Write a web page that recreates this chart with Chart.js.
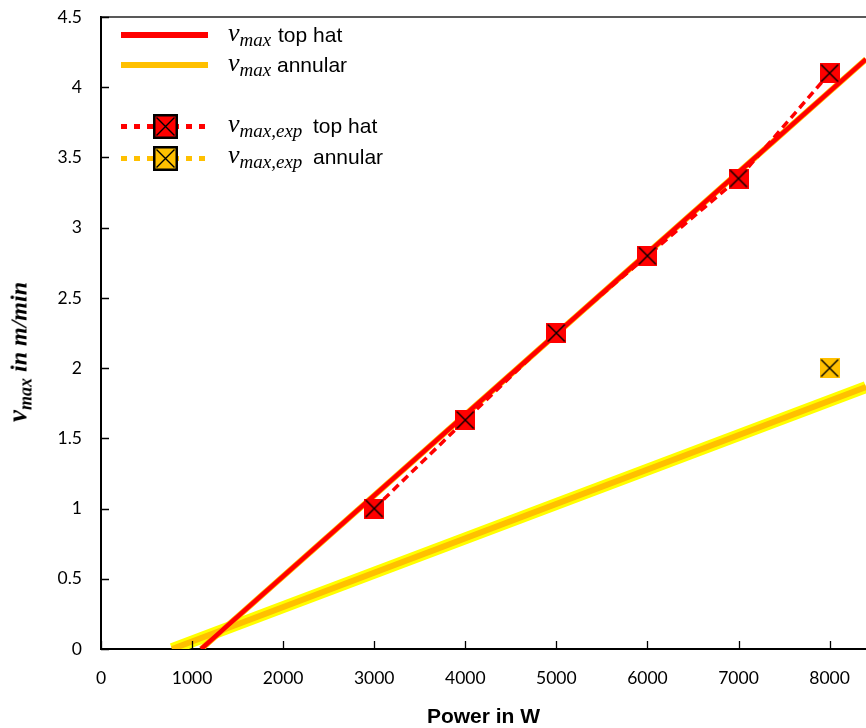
<!DOCTYPE html>
<html lang="en">
<head>
  <meta charset="UTF-8">
  <title>v_max over laser power</title>
  <script src="https://cdn.jsdelivr.net/npm/chart.js"></script>
  <style>
    html, body { margin: 0; padding: 0; background: #fff; }
    #wrap { position: relative; width: 866px; height: 728px; overflow: hidden; }
    #chart { position: absolute; left: 0; top: 0; }
    .sym { position: absolute; left: 121px; width: 87px; }
    .mark { position: absolute; left: 153px; }
    .lv { position: absolute; left: 228px; font-family: "Liberation Serif", "Times New Roman", serif; font-style: italic; font-size: 26px; line-height: 1; white-space: nowrap; }
    .lv sub { font-size: 19px; vertical-align: -5px; line-height: 0; }
    .lt { position: absolute; font-family: "Liberation Sans", Arial, sans-serif; font-size: 21px; line-height: 1; white-space: nowrap; }
    .dots { height: 5px; background: repeating-linear-gradient(90deg, var(--c) 0 6px, transparent 6px 13px); }
    #ytitle { position: absolute; left: 18px; top: 352px; transform: translate(-50%, -50%) rotate(-90deg);
      font-family: "Liberation Serif", "Times New Roman", serif; font-weight: bold; font-style: italic; font-size: 24px; line-height: 1; white-space: nowrap; }
    #ytitle .v { font-size: 27px; }
    #ytitle sub { font-size: 18px; vertical-align: -5px; line-height: 0; }
  </style>
</head>
<body>
<div id="wrap">
  <canvas id="chart" width="866" height="728"></canvas>

  <!-- legend -->
  <div class="sym" style="top:32px;height:6px;background:#ff0000"></div>
  <div class="lv" style="top:20px">v<sub>max</sub></div>
  <div class="lt" style="top:24px;left:278px">top hat</div>

  <div class="sym" style="top:62px;height:6px;background:#ffc000"></div>
  <div class="lv" style="top:50px">v<sub>max</sub></div>
  <div class="lt" style="top:54px;left:277px">annular</div>

  <div class="sym dots" style="top:124px;--c:#ff0000"></div>
  <div class="mark" id="markTop" style="top:114px"></div>
  <div class="lv" style="top:111px">v<sub>max,exp</sub></div>
  <div class="lt" style="top:115px;left:313px">top hat</div>

  <div class="sym dots" style="top:156px;--c:#ffc000"></div>
  <div class="mark" id="markAnn" style="top:146px"></div>
  <div class="lv" style="top:142px">v<sub>max,exp</sub></div>
  <div class="lt" style="top:146px;left:313px">annular</div>

  <div id="ytitle"><span class="v">v</span><sub>max</sub> in m/min</div>
</div>

<script>
  // measured values
  const powerExpTopHat = [3000, 4000, 5000, 6000, 7000, 8000];
  const vExpTopHat = [1.0, 1.63, 2.25, 2.8, 3.35, 4.1];
  const powerExpAnnular = [8000];
  const vExpAnnular = [2.0];

  // fitted lines (start at v = 0, end at the right edge)
  const powerFitTopHat = [1100, 8400];
  const vFitTopHat = [0, 4.2];
  const powerFitAnnular = [780, 8400];
  const vFitAnnular = [0, 1.865];

  // axes
  const xRange = [0, 8400];
  const xTickValues = [0, 1000, 2000, 3000, 4000, 5000, 6000, 7000, 8000];
  const yRange = [0, 4.5];
  const yTickValues = [0, 0.5, 1, 1.5, 2, 2.5, 3, 3.5, 4, 4.5];

  const RED = '#ff0000';
  const ORANGE = '#ffc000';
  const YELLOW = '#ffff00';

  function pts(xs, ys) {
    return xs.map((x, i) => ({ x: x, y: ys[i] }));
  }

  // square marker with a cross in it
  function makeMarker(fill, size, border) {
    const c = document.createElement('canvas');
    c.width = size; c.height = size;
    const g = c.getContext('2d');
    g.fillStyle = fill;
    g.fillRect(0, 0, size, size);
    let b = 1.5;
    if (border) {
      g.strokeStyle = '#000';
      g.lineWidth = border;
      g.strokeRect(border / 2, border / 2, size - border, size - border);
      b = border + 1;
    }
    g.strokeStyle = '#000';
    g.lineWidth = 1.4;
    g.beginPath();
    g.moveTo(b, b); g.lineTo(size - b, size - b);
    g.moveTo(size - b, b); g.lineTo(b, size - b);
    g.stroke();
    return c;
  }

  document.getElementById('markTop').appendChild(makeMarker(RED, 25, 2.5));
  document.getElementById('markAnn').appendChild(makeMarker(ORANGE, 25, 2.5));

  // frame line on top + ticks pointing inwards
  const framePlugin = {
    id: 'frame',
    afterDraw(chart) {
      const { ctx, chartArea: a, scales } = chart;
      ctx.save();
      ctx.strokeStyle = '#222';
      ctx.lineWidth = 1.5;
      ctx.beginPath();
      ctx.moveTo(a.left, a.top);
      ctx.lineTo(a.right, a.top);
      ctx.stroke();
      ctx.strokeStyle = '#000';
      ctx.lineWidth = 1.3;
      ctx.beginPath();
      scales.x.ticks.forEach(t => {
        const px = Math.round(scales.x.getPixelForValue(t.value)) + 0.5;
        ctx.moveTo(px, a.bottom);
        ctx.lineTo(px, a.bottom - 8);
      });
      scales.y.ticks.forEach(t => {
        const py = Math.round(scales.y.getPixelForValue(t.value)) + 0.5;
        ctx.moveTo(a.left, py);
        ctx.lineTo(a.left + 8, py);
      });
      ctx.stroke();
      ctx.restore();
    }
  };

  const tickFont = { family: 'Lato, "Noto Sans", sans-serif', size: 17.5 };
  // invisible outer ticks only used to space the labels from the axis
  const hiddenGrid = { display: true, drawOnChartArea: false, drawTicks: true, tickLength: 19, color: 'rgba(0,0,0,0)' };

  new Chart(document.getElementById('chart').getContext('2d'), {
    type: 'scatter',
    data: {
      datasets: [
        {
          label: 'v_max,exp top hat',
          data: pts(powerExpTopHat, vExpTopHat),
          showLine: true,
          borderColor: RED,
          borderWidth: 3.5,
          borderDash: [8, 5],
          pointStyle: makeMarker(RED, 20, 0),
          order: 0
        },
        {
          label: 'v_max,exp annular',
          data: pts(powerExpAnnular, vExpAnnular),
          showLine: true,
          borderColor: ORANGE,
          borderWidth: 3.5,
          borderDash: [8, 5],
          pointStyle: makeMarker(ORANGE, 20, 0),
          order: 1
        },
        {
          label: 'v_max top hat',
          data: pts(powerFitTopHat, vFitTopHat),
          showLine: true,
          borderColor: RED,
          borderWidth: 4.5,
          pointRadius: 0,
          clip: 0,
          order: 2
        },
        {
          label: 'top hat edge',
          data: pts(powerFitTopHat, vFitTopHat),
          showLine: true,
          borderColor: ORANGE,
          borderWidth: 6,
          pointRadius: 0,
          clip: 0,
          order: 3
        },
        {
          label: 'v_max annular',
          data: pts(powerFitAnnular, vFitAnnular),
          showLine: true,
          borderColor: ORANGE,
          borderWidth: 6,
          pointRadius: 0,
          clip: 0,
          order: 4
        },
        {
          label: 'annular edge',
          data: pts(powerFitAnnular, vFitAnnular),
          showLine: true,
          borderColor: YELLOW,
          borderWidth: 12,
          pointRadius: 0,
          clip: 0,
          order: 5
        }
      ]
    },
    options: {
      responsive: false,
      animation: false,
      layout: { autoPadding: false, padding: { top: 17, right: 0, bottom: 0, left: 0 } },
      plugins: {
        legend: { display: false },
        tooltip: { enabled: false }
      },
      scales: {
        x: {
          type: 'linear',
          min: xRange[0],
          max: xRange[1],
          grid: hiddenGrid,
          border: { display: true, color: '#000', width: 2 },
          ticks: {
            color: '#000',
            font: tickFont,
            padding: 0,
            maxRotation: 0,
            autoSkip: false,
            callback: v => String(v)
          },
          afterBuildTicks: s => { s.ticks = xTickValues.map(v => ({ value: v })); },
          afterFit: s => { s.height = 79; s.paddingLeft = 0; s.paddingRight = 0; },
          title: {
            display: true,
            text: 'Power in W',
            color: '#000',
            font: { family: '"Liberation Sans", Arial, sans-serif', size: 21, weight: 'bold', lineHeight: 1 },
            padding: { top: 0, bottom: 0 }
          }
        },
        y: {
          type: 'linear',
          min: yRange[0],
          max: yRange[1],
          grid: hiddenGrid,
          border: { display: true, color: '#000', width: 2 },
          ticks: {
            color: '#000',
            font: tickFont,
            padding: 0,
            autoSkip: false,
            callback: v => String(v)
          },
          afterBuildTicks: s => { s.ticks = yTickValues.map(v => ({ value: v })); },
          afterFit: s => { s.width = 101; s.paddingTop = 0; s.paddingBottom = 0; }
        }
      }
    },
    plugins: [framePlugin]
  });
</script>
</body>
</html>
